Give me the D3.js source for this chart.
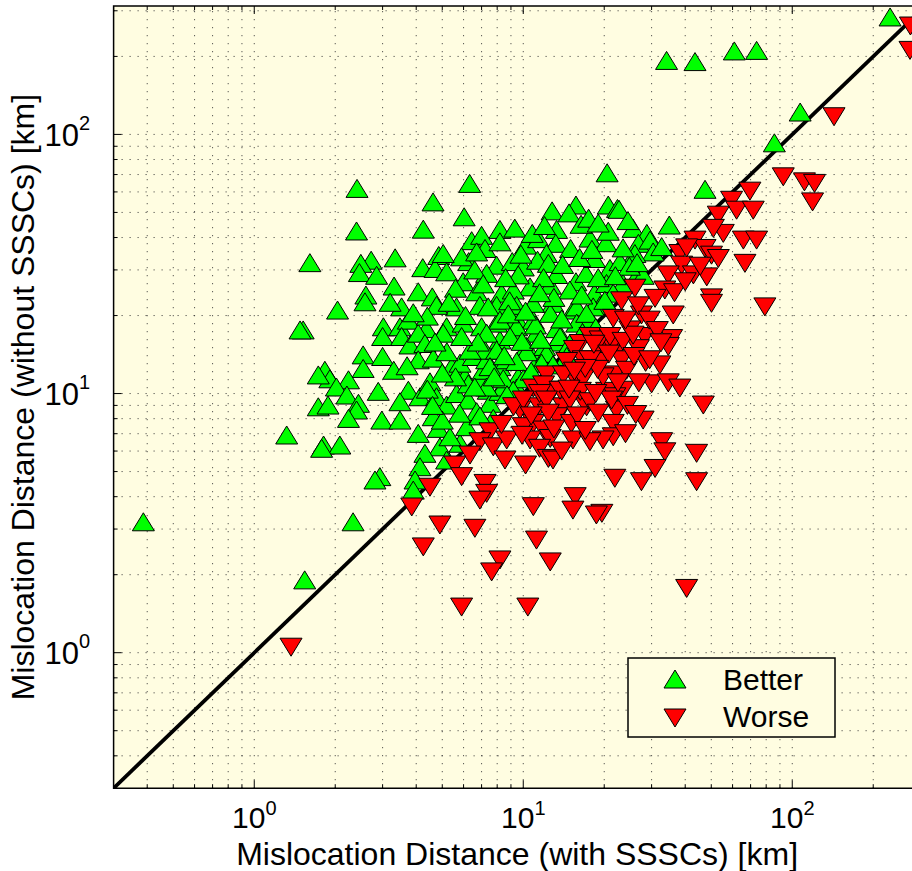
<!DOCTYPE html>
<html>
<head>
<meta charset="utf-8">
<script src="https://cdn.jsdelivr.net/npm/d3@7"></script>
<style>
  body { margin: 0; background: #fff; }
  text { font-family: "Liberation Sans", Arial, Helvetica, sans-serif; fill: #000; }
</style>
</head>
<body>
<svg id="chart" width="912" height="871"></svg>
<script>
// mislocation distances [with SSSCs, without SSSCs] in km
const better = [
  [2.41,61.9],[6.32,64.7],[20.5,71.1],[4.62,54.9],[2.40,42.4],[4.25,43.1],[6.03,48.1],[1.61,32.0],
  [12.8,50.7],[15.7,53.4],[14.8,49.8],[20.7,53.4],[22.4,51.8],[8.19,43.0],[6.43,38.9],[7.00,40.8],
  [7.21,36.3],[8.19,38.5],[10.2,37.4],[11.4,39.6],[13.3,43.0],[13.2,38.0],[12.2,34.7],[15.0,36.3],
  [17.7,39.8],[20.3,38.2],[20.7,42.3],[2.72,32.7],[2.49,31.8],[2.46,29.3],[2.85,28.6],[3.34,33.4],
  [3.31,26.0],[4.85,34.1],[4.23,30.6],[4.70,30.4],[5.19,29.5],[6.27,32.3],[5.90,33.7],[5.98,27.0],
  [7.96,31.3],[9.10,32.3],[10.0,30.8],[10.6,25.8],[12.6,26.2],[13.3,28.8],[15.7,27.0],[17.1,29.1],
  [18.4,33.2],[21.0,30.4],[18.4,24.4],[2.60,24.0],[4.07,24.7],[4.59,23.6],[6.71,24.7],[8.31,24.4],
  [9.18,25.1],[14.9,25.1],[11.3,32.7],[12.4,31.8],[7.31,29.1],[9.58,28.7],
  [231,284],[34.1,193],[43.5,191],[60.9,210],[73.7,211],[107,122],[85.8,92.8],[47.4,61.4],
  [22.7,51.4],[25.6,43.4],[34.9,44.7],[28.8,41.5],[26.8,38.0],[29.6,39.1],[30.4,35.2],[26.0,34.7],
  [22.9,32.3],[32.7,36.9],[27.0,29.5],[27.9,28.6],[23.5,26.6],[20.4,26.6],[21.6,24.4],
  [2.04,21.0],[2.58,22.6],[1.52,17.6],[3.02,18.1],[3.00,16.6],[3.48,18.1],[3.74,19.2],[3.53,16.6],
  [3.79,15.4],[4.37,17.8],[4.07,17.1],[4.31,15.6],[5.19,18.1],[5.04,17.1],[4.07,13.5],[4.63,13.7],
  [2.54,14.1],[2.54,12.5],[1.83,12.3],[1.91,11.4],[2.24,11.3],[2.02,10.6],[2.21,9.87],[1.73,8.89],
  [1.88,9.03],[2.44,9.17],[2.40,8.64],[2.24,8.02],[2.89,10.2],[3.74,10.3],[3.48,9.30],[2.98,7.90],
  [3.48,7.90],[4.13,9.72],[4.50,11.1],[5.42,12.7],[6.07,11.6],[5.82,13.1],[4.76,9.72],[5.19,9.03],
  [5.65,10.0],[6.25,9.44],[6.25,10.9],[6.90,11.4],[7.41,10.3],[7.52,9.17],[7.10,12.3],[6.52,13.9],
  [7.31,13.5],[8.19,12.7],[8.68,13.5],[9.58,11.6],[9.45,10.5],[8.19,10.2],[11.5,13.7],[9.18,17.1],
  [8.19,16.1],[7.21,14.7],[6.34,14.7],[5.98,18.7],[7.00,18.1],[7.96,18.7],[9.45,19.5],[10.9,19.2],
  [11.2,17.1],[13.3,17.8],[13.3,15.8],[10.3,15.2],[12.0,15.2],[15.3,21.0],[17.7,19.5],[19.3,21.9],
  [12.9,22.3],[10.9,22.3],[9.45,21.9],[7.96,21.9],[6.90,21.9],[5.65,21.6],[4.76,21.9],[3.53,21.6],
  [4.07,7.02],[4.83,7.34],[4.90,6.23],[4.31,5.88],[4.13,5.22],[3.96,4.64],[5.82,6.43],[5.19,5.54],
  [2.93,4.78],[2.81,4.64],[3.90,4.24],[2.33,3.20],[1.54,1.91],[1.81,6.33],[2.08,6.33],[5.34,6.81],
  [4.63,8.14],[7.74,8.02],[6.71,8.51],[6.16,7.45],[8.43,10.6],[9.6,10.3],
  [1.48,17.6],[1.73,11.8],[1.32,6.92],[1.78,6.15],[0.387,3.20],
  [7.41,21.6],[12.6,20.4],[15.8,21.6],[18.2,21.6],[8.19,19.2],[9.45,18.1],[11.1,18.4],[15.8,18.7],
  [17.2,20.4],[7.31,17.1],[8.93,16.6],[13.7,16.6],[14.9,15.6],[7.96,14.7],[10.3,14.5],[12.2,14.3],
  [7.52,12.7],[9.45,13.3],[11.7,13.1],[8.43,11.4],[10.0,11.4],[7.31,10.6],[9.18,10.3],
  [6.71,35.2],[5.04,34.7],[20.1,22.9],
  [6.6,30.0],[8.6,28.0],[9.8,34.5],[11.9,28.0],[14.0,31.5],[16.2,33.5],[19.0,28.0],[16.5,24.0],
  [13.0,23.5],[11.5,24.5],[8.9,22.8],[7.1,26.5],[5.6,25.5],[5.3,22.5],[6.1,20.0],[8.8,20.3],
  [10.2,20.8],[13.9,19.4],[16.6,17.2],[18.6,18.0],[14.5,13.9],[12.9,12.9],[10.7,12.2],[9.9,15.9],
  [11.6,16.2],[8.5,14.0],[6.8,15.8],[5.9,16.6],[5.2,14.5],[5.6,11.6],[6.6,10.6],[7.8,11.6],
  [5.0,12.0],[4.7,15.8],[4.4,19.9],[3.9,20.5],[3.2,22.5],[3.0,13.9],[3.3,12.3],[3.7,12.8],
  [4.4,10.4],[8.7,9.9],[6.9,8.2],[5.8,8.4],[5.0,7.9],[4.6,9.0],
  [9.3,43.5],[10.8,41.5],[12.0,44.5],[16.4,45.0],[17.5,47.5],[19.0,45.5],[24.5,46.5],[18.0,36.0],
  [23.5,36.5],[24.8,31.0],[22.0,28.5],[26.5,32.0]
];

const worse = [
  [275,262],[274,211],[143,117],[92.6,68.6],[111,65.6],[121,64.7],[119,54.9],[69.6,60.4],
  [59.5,55.7],[62.1,51.0],[71.6,51.0],[53.1,48.8],[55.4,41.5],[50.9,43.4],[65.8,39.1],[73.7,39.1],
  [43.5,39.1],[47.4,36.3],[50.1,34.2],[53.1,33.2],[38.2,34.7],[38.8,31.3],[66.7,31.8],[42.9,28.7],
  [48.1,28.2],[34.6,28.7],[33.6,25.1],[26.0,25.5],[23.2,22.8],[30.9,23.3],[50.1,23.4],
  [50.1,22.3],[79.1,21.6],[27.5,20.1],[36.1,20.1],[21.6,19.5],[24.9,17.6],[28.3,16.6],[35.6,16.3],
  [34.6,15.2],[22.9,15.4],[20.4,15.6],[26.8,14.9],[23.2,13.5],[19.8,13.5],[32.2,12.9],[21.9,11.8],
  [24.2,12.3],[30.0,10.9],[34.6,11.0],[38.2,10.5],[23.5,10.3],[20.4,10.2],[46.7,9.03],[21.9,9.72],
  [22.2,8.64],[27.9,7.90],[21.6,7.67],[21.6,6.81],[19.8,6.62],[32.7,6.52],[33.6,5.96],[44.1,5.88],
  [30.9,5.14],[21.9,4.71],[27.5,4.57],[44.1,4.57],[19.6,3.45],[40.5,1.77],
  [16.3,15.6],[15.5,14.8],[17.7,16.6],[19.3,14.7],[21.3,15.4],[16.7,13.5],[14.5,13.3],[19.3,13.3],
  [12.2,11.8],[10.9,10.5],[12.9,10.3],[16.0,10.9],[9.72,8.64],[9.2,8.9],[11.5,8.89],[14.1,8.89],
  [17.2,8.89],[13.3,8.14],[15.1,7.67],[10.9,7.67],[10.0,7.45],[11.9,7.23],[7.52,7.12],[6.90,6.52],
  [7.74,6.23],[8.68,6.62],[10.6,6.62],[12.6,6.71],[15.3,6.62],[17.7,6.52],[11.5,6.15],[6.34,5.79],
  [5.57,5.30],[8.55,5.54],[10.2,5.30],[12.4,5.62],[12.9,5.54],[5.90,4.78],[4.5,4.35],[7.21,4.50],
  [7.31,4.12],[6.90,3.88],[3.85,3.65],[10.9,3.66],[15.6,4.00],[15.3,3.55],[18.7,3.40],[4.90,3.11],
  [6.61,3.02],[11.2,2.72],[4.25,2.56],[8.19,2.28],[7.63,2.05],[12.6,2.24],
  [1.37,1.05],[5.90,1.50],[10.4,1.50],
  [19.3,16.1],[21.0,16.6],[17.7,13.5],[14.1,11.8],[16.7,11.4],[19.8,11.6],[11.9,10.8],[11.5,10.0],
  [13.7,10.3],[16.3,10.2],[10.0,9.44],[12.2,9.44],[14.9,9.44],[17.7,9.30],[21.3,9.44],
  [18.3,15.5],[20.8,14.2],[23.5,15.9],[25.6,16.8],[24.0,19.2],[26.8,21.8],[29.4,19.2],[31.5,17.5],
  [28.5,13.2],[25.8,13.9],[26.9,11.0],[22.5,11.0],[18.9,12.4],[17.0,12.5],[15.5,12.2],[14.8,10.4],
  [18.6,10.0],[19.0,8.4],[24.4,9.0],[26.2,8.3],[15.9,8.2],[12.4,8.4],[13.0,7.3],[17.0,7.2],
  [13.9,6.0],[24.0,7.0],[29.5,13.5],[32.5,15.7],[36.5,24.5],[40.0,27.0],[45.5,31.0],[40.5,36.5],
  [10.7,8.2],[9.9,6.9],[8.3,7.6]
];

const majorTicks = [1, 10, 100];
const tickExponents = ["0", "1", "2"];
const diagonal = [0.3, 300];
const legendLabels = ["Better", "Worse"];

const svg = d3.select("#chart");
const bg = "#fffde1";

const x = d3.scaleLog().domain([0.3, 300]).range([113.6, 920.6]);
const y = d3.scaleLog().domain([0.3, 313]).range([788.2, 6]);

const [x0, x1] = x.range();
const [y0, y1] = y.range();

svg.append("defs").append("clipPath").attr("id", "plot-clip")
  .append("rect")
  .attr("x", x0).attr("y", y1)
  .attr("width", x1 - x0).attr("height", y0 - y1);

svg.append("rect")
  .attr("x", x0).attr("y", y1)
  .attr("width", x1 - x0).attr("height", y0 - y1)
  .attr("fill", bg);

// dotted grid at every major and minor decade tick
const grid = svg.append("g")
  .attr("stroke", "#333")
  .attr("stroke-width", 1)
  .attr("stroke-dasharray", "1,7");

grid.selectAll(".gx")
  .data(x.ticks().filter((d) => d > 0.3))
  .join("line")
  .attr("x1", (d) => x(d)).attr("x2", (d) => x(d))
  .attr("y1", y0).attr("y2", y1);

grid.selectAll(".gy")
  .data(y.ticks().filter((d) => d > 0.3))
  .join("line")
  .attr("y1", (d) => y(d)).attr("y2", (d) => y(d))
  .attr("x1", x0).attr("x2", x1);

const plot = svg.append("g").attr("clip-path", "url(#plot-clip)");

plot.append("path")
  .datum(diagonal)
  .attr("fill", "none")
  .attr("stroke", "#000")
  .attr("stroke-width", 3.8)
  .attr("d", d3.line().x((d) => x(d)).y((d) => y(d)));

const upTri = "M0,-9L11,9L-11,9Z";
const downTri = "M-11,-9L11,-9L0,9Z";

plot.append("g")
  .selectAll("path")
  .data(better)
  .join("path")
  .attr("d", upTri)
  .attr("transform", (d) => `translate(${x(d[0])},${y(d[1])})`)
  .attr("fill", "#00ff00")
  .attr("stroke", "#000")
  .attr("stroke-width", 1);

plot.append("g")
  .selectAll("path")
  .data(worse)
  .join("path")
  .attr("d", downTri)
  .attr("transform", (d) => `translate(${x(d[0])},${y(d[1])})`)
  .attr("fill", "#ff0000")
  .attr("stroke", "#000")
  .attr("stroke-width", 1);

// axes frame
const frame = svg.append("g").attr("stroke", "#000").attr("stroke-width", 1.5).attr("fill", "none");
frame.append("path").attr("d", `M${x1},${y1}H${x0}V${y0}H${x1}`);

const tickLen = (d) => (majorTicks.includes(d) ? 8 : 4);
frame.selectAll(".tb")
  .data(x.ticks())
  .join("path")
  .attr("stroke-width", 1)
  .attr("d", (d) => `M${x(d)},${y0}v${-tickLen(d)}M${x(d)},${y1}v${tickLen(d)}`);
frame.selectAll(".tl")
  .data(y.ticks())
  .join("path")
  .attr("stroke-width", 1)
  .attr("d", (d) => `M${x0},${y(d)}h${tickLen(d)}`);

// tick labels 10^n
const xl = svg.append("g").selectAll("text")
  .data(majorTicks)
  .join("text")
  .attr("x", (d) => x(d))
  .attr("y", 828)
  .attr("text-anchor", "middle")
  .attr("font-size", 30);
xl.append("tspan").text("10");
xl.append("tspan").attr("dy", -13).attr("font-size", 20).text((d, i) => tickExponents[i]);

const yl = svg.append("g").selectAll("text")
  .data(majorTicks)
  .join("text")
  .attr("x", 90)
  .attr("y", (d) => y(d) + 11.4)
  .attr("text-anchor", "end")
  .attr("font-size", 31);
yl.append("tspan").text("10");
yl.append("tspan").attr("dy", -16).attr("font-size", 20).text((d, i) => tickExponents[i]);

// axis titles
svg.append("text")
  .attr("x", (x0 + x1) / 2)
  .attr("y", 865)
  .attr("text-anchor", "middle")
  .attr("font-size", 32)
  .text("Mislocation Distance (with SSSCs) [km]");

svg.append("text")
  .attr("transform", `translate(34,${(y0 + y1) / 2}) rotate(-90)`)
  .attr("text-anchor", "middle")
  .attr("font-size", 32)
  .text("Mislocation Distance (without SSSCs) [km]");

// legend
const legend = svg.append("g").attr("transform", "translate(628,658)");
legend.append("rect")
  .attr("width", 207).attr("height", 79)
  .attr("fill", bg)
  .attr("stroke", "#000")
  .attr("stroke-width", 1.5);

const entries = legend.selectAll(".entry")
  .data(legendLabels)
  .join("g")
  .attr("transform", (d, i) => `translate(0,${21 + i * 39})`);
entries.append("path")
  .attr("d", (d, i) => (i === 0 ? upTri : downTri))
  .attr("transform", "translate(47,0)")
  .attr("fill", (d, i) => (i === 0 ? "#00ff00" : "#ff0000"))
  .attr("stroke", "#000")
  .attr("stroke-width", 1);
entries.append("text")
  .attr("x", 95)
  .attr("y", (d, i) => (i === 0 ? 11 : 9))
  .attr("font-size", 30)
  .text((d) => d);
</script>
</body>
</html>
